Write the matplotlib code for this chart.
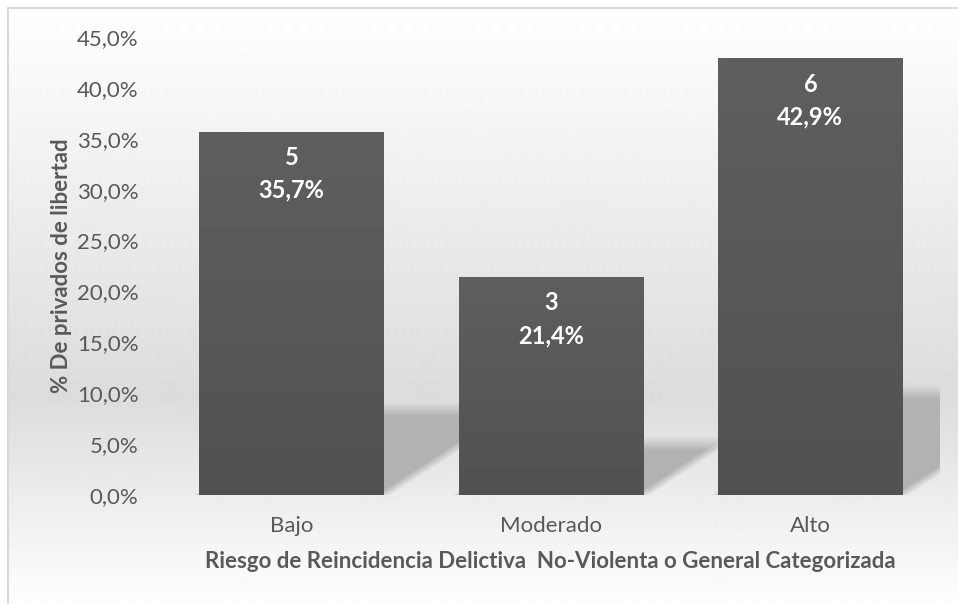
import numpy as np
import matplotlib
matplotlib.use("Agg")
import matplotlib.pyplot as plt
from matplotlib.lines import Line2D

plt.rcParams['font.family'] = ['Lato', 'DejaVu Sans']

# Datos del gráfico
categorias = ["Bajo", "Moderado", "Alto"]
casos = [5, 3, 6]
porcentajes = [35.7, 21.4, 42.9]
ticks_y = [0, 5, 10, 15, 20, 25, 30, 35, 40, 45]

gris_texto = "#595959"
W, H = 958, 604

fig = plt.figure(figsize=(W / 100, H / 100), dpi=100)

# Fondo con degradado vertical (blanco -> gris -> blanco) dentro del marco
bg = fig.add_axes([8 / W, 0, (W - 8) / W, (H - 8) / H])
filas = np.arange(H - 8) + 8
tono = np.interp(filas, [8, 395, H], [255, 220, 254]) / 255
grad = np.repeat(tono[:, None], 2, axis=1)
bg.imshow(grad, cmap="gray", vmin=0, vmax=1, aspect="auto",
          extent=[0, 1, 0, 1], interpolation="bilinear")
bg.set_axis_off()

# Marco del gráfico
fig.add_artist(Line2D([8 / W, 1], [1 - 8 / H, 1 - 8 / H], color="#d9d9d9", lw=1.5))
fig.add_artist(Line2D([8 / W, 8 / W], [0, 1 - 8 / H], color="#d9d9d9", lw=1.5))

ax = fig.add_axes([162 / W, 109 / H, 778 / W, 458 / H])
ax.patch.set_alpha(0)
x = np.arange(len(categorias))
ancho = 0.713
ax.set_xlim(-0.5, len(categorias) - 0.5)
ax.set_ylim(0, 45)

# Sombras en perspectiva detrás de las barras
nx, ny = 778, 458
gx = np.linspace(-0.5, len(categorias) - 0.5, nx)
gy = np.linspace(0, 45, ny)
XX, YY = np.meshgrid(gx, gy)
alfa = np.zeros_like(XX)
for xi, v in zip(x, porcentajes):
    h = 0.235 * v
    dx = 0.0604 * h
    izq = xi - ancho / 2 + YY * dx / h
    der = xi + ancho / 2 + YY * dx / h
    a_top = np.clip((h - YY) / 1.4 + 0.5, 0, 1)
    a_der = np.clip((der - XX) / 0.06 + 0.5, 0, 1)
    a_izq = np.clip((XX - izq) / 0.05 + 0.5, 0, 1)
    alfa = np.maximum(alfa, a_top * a_der * a_izq)
sombra = np.zeros((ny, nx, 4))
sombra[..., :3] = 0.70
sombra[..., 3] = alfa
ax.imshow(sombra, origin="lower", extent=[-0.5, len(categorias) - 0.5, 0, 45],
          aspect="auto", interpolation="bilinear", zorder=1)

barras = ax.bar(x, porcentajes, width=ancho, color="#575757", zorder=2)

# Degradado suave en cada barra
grad_barra = np.linspace(0.318, 0.369, 64)[:, None]
for b in barras:
    im = ax.imshow(grad_barra, cmap="gray", vmin=0, vmax=1, origin="lower",
                   extent=[b.get_x(), b.get_x() + b.get_width(), 0, b.get_height()],
                   aspect="auto", zorder=3)
    im.set_clip_path(b)

# Etiquetas de datos
for xi, n, p in zip(x, casos, porcentajes):
    ax.annotate(str(n), (xi, p), xytext=(0, -18.5), textcoords="offset points",
                ha="center", va="center", color="white", fontsize=17,
                fontweight="bold", zorder=4)
    ax.annotate(f"{p:.1f}%".replace(".", ","), (xi, p), xytext=(0, -42),
                textcoords="offset points", ha="center", va="center",
                color="white", fontsize=17, fontweight="bold", zorder=4)

ax.set_xticks(x)
ax.set_xticklabels(categorias)
ax.set_yticks(ticks_y)
ax.set_yticklabels([f"{t:.1f}%".replace(".", ",") for t in ticks_y])
ax.tick_params(axis="both", length=0, colors=gris_texto, labelsize=16)
ax.tick_params(axis="y", pad=17)
ax.tick_params(axis="x", pad=15)
for s in ax.spines.values():
    s.set_visible(False)

ax.set_ylabel("% De privados de libertad", color=gris_texto, fontsize=16,
              fontweight="bold", va="center")
ax.yaxis.set_label_coords(-100 / 778, 0.501)
ax.set_xlabel("Riesgo de Reincidencia Delictiva  No-Violenta o General Categorizada",
              color=gris_texto, fontsize=16, fontweight="bold", va="center")
ax.xaxis.set_label_coords(388 / 778, -67 / 458)

fig.savefig("out.png", dpi=100)
